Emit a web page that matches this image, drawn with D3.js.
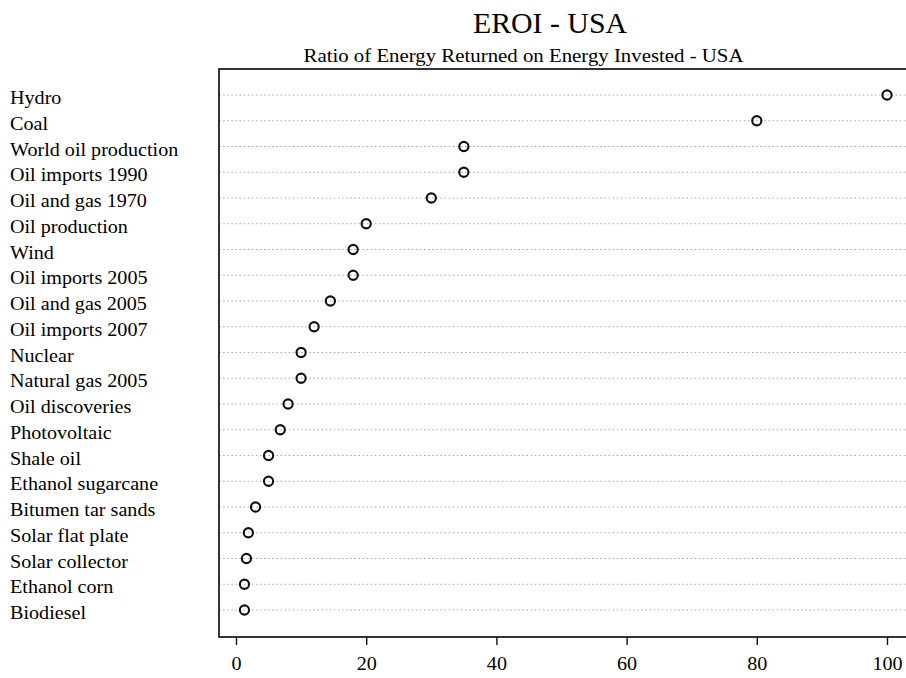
<!DOCTYPE html>
<html>
<head>
<meta charset="utf-8">
<script src="https://cdn.jsdelivr.net/npm/d3@7"></script>
<style>
  html, body { margin: 0; padding: 0; background: #fff; }
  svg { display: block; }
  text { font-family: "Liberation Serif", "Times New Roman", serif; fill: #000; }
</style>
</head>
<body>
<svg id="chart" width="906" height="678"></svg>
<script>
const categories = ["Hydro", "Coal", "World oil production", "Oil imports 1990", "Oil and gas 1970",
  "Oil production", "Wind", "Oil imports 2005", "Oil and gas 2005", "Oil imports 2007",
  "Nuclear", "Natural gas 2005", "Oil discoveries", "Photovoltaic", "Shale oil",
  "Ethanol sugarcane", "Bitumen tar sands", "Solar flat plate", "Solar collector",
  "Ethanol corn", "Biodiesel"];
const eroiValues = [100, 80, 35, 35, 30, 20, 18, 18, 14.5, 12, 10, 10, 8, 6.8, 5, 5, 3, 1.9, 1.6, 1.3, 1.3];
const xTicks = [0, 20, 40, 60, 80, 100];
const titleText = "EROI - USA";
const subtitleText = "Ratio of Energy Returned on Energy Invested - USA";

const svg = d3.select("#chart");
const frame = { left: 219, right: 907, top: 69, bottom: 637 };

const x = d3.scaleLinear().domain([0, 100]).range([236, 887]);
const y = d3.scalePoint().domain(categories).range([95, 610]);

// titles
svg.append("text").attr("x", 550).attr("y", 33).attr("text-anchor", "middle")
  .style("font-size", "29px").attr("textLength", 154).attr("lengthAdjust", "spacingAndGlyphs")
  .text(titleText);
svg.append("text").attr("x", 523.5).attr("y", 62).attr("text-anchor", "middle")
  .style("font-size", "19px").attr("textLength", 440).attr("lengthAdjust", "spacingAndGlyphs")
  .text(subtitleText);

// dotted guide lines
svg.append("g").selectAll("line").data(categories).join("line")
  .attr("x1", frame.left).attr("x2", frame.right)
  .attr("y1", d => y(d)).attr("y2", d => y(d))
  .attr("stroke", "#aaaaaa").attr("stroke-width", 1.1)
  .attr("stroke-dasharray", "1.6,2.5");

// category labels
svg.append("g").selectAll("text").data(categories).join("text")
  .attr("transform", d => `translate(10,${y(d) + 9}) scale(1.06,1)`)
  .style("font-size", "19px").text(d => d);

// frame
svg.append("rect")
  .attr("x", frame.left).attr("y", frame.top)
  .attr("width", frame.right - frame.left).attr("height", frame.bottom - frame.top)
  .attr("fill", "none").attr("stroke", "#111").attr("stroke-width", 1.7);

// points
svg.append("g").selectAll("circle").data(categories).join("circle")
  .attr("cx", (d, i) => x(eroiValues[i])).attr("cy", d => y(d))
  .attr("r", 4.6).attr("fill", "none").attr("stroke", "#111").attr("stroke-width", 2.1);

// x axis
const axis = d3.axisBottom(x).tickValues(xTicks).tickSize(8).tickPadding(12).tickFormat(d3.format("d"));
const gx = svg.append("g").attr("transform", `translate(0,${frame.bottom})`).call(axis);
gx.select(".domain").remove();
gx.selectAll(".tick line").attr("stroke", "#111").attr("stroke-width", 1.4);
gx.selectAll(".tick text").style("font-size", "19px")
  .style("font-family", '"Liberation Serif", "Times New Roman", serif').attr("fill", "#000")
  .attr("transform", "scale(1.06,1)");
</script>
</body>
</html>
